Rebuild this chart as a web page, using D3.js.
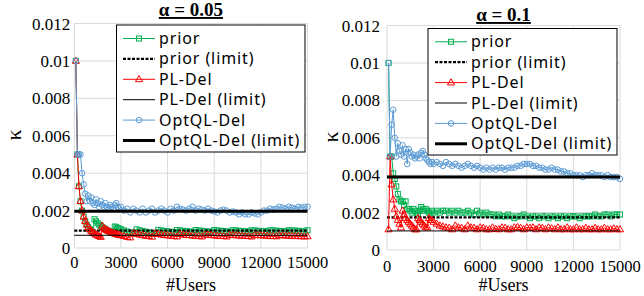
<!DOCTYPE html>
<html>
<head>
<meta charset="utf-8">
<script src="https://cdn.jsdelivr.net/npm/d3@7"></script>
<style>
body{margin:0;background:#fff}
svg{display:block}
</style>
</head>
<body>
<svg width="644" height="296"></svg>
<script>
//#Users at which kappa was recorded (shared by all series)
var users = [100,200,300,400,500,600,700,800,900,1000,1100,1200,1300,1400,1500,1600,1700,1800,1900,2000,
  2100,2200,2300,2400,2500,2600,2700,2800,2900,3000,
  3200,3400,3600,3800,4000,4200,4400,4600,4800,5000,5200,5400,5600,5800,6000,6200,6400,6600,6800,7000,
  7200,7400,7600,7800,8000,8200,8400,8600,8800,9000,9200,9400,9600,9800,10000,10200,10400,10600,10800,11000,
  11200,11400,11600,11800,12000,12200,12400,12600,12800,13000,13200,13400,13600,13800,14000,14200,14400,14600,14800,15000];

//alpha = 0.05
var prior05 = [0.01,0.005,0.0033,0.0025,0.002,0.00167,0.00143,0.00125,0.00111,0.001,0.00091,0.00083,0.00154,0.00143,0.00133,0.00125,0.00118,0.00111,0.00105,0.001,
  0.00095,0.00091,0.00087,0.00083,0.0008,0.00115,0.00111,0.00107,0.00103,0.001,
  0.00094,0.00088,0.00083,0.00079,0.001,0.00095,0.00091,0.00087,0.00083,0.0008,0.00077,0.00097,0.00094,0.00091,0.00089,0.00087,0.00085,0.00096,0.00094,0.00092,
  0.0009,0.00088,0.00086,0.00096,0.00094,0.00092,0.0009,0.00088,0.00087,0.00096,0.00094,0.00092,0.00091,0.00089,0.00087,0.00095,0.00094,0.00092,0.00091,0.00089,
  0.00088,0.00095,0.00094,0.00092,0.00091,0.0009,0.00088,0.00095,0.00094,0.00093,0.00091,0.0009,0.00089,0.00095,0.00094,0.00093,0.00092,0.0009,0.00089,0.00095];
var pl05 = [0.01,0.005,0.0033,0.0025,0.002,0.00167,0.00143,0.00125,0.00111,0.001,0.00091,0.00083,0.00077,0.00071,0.00067,0.00063,0.00059,0.00118,0.00105,0.001,
  0.00095,0.00091,0.00087,0.00083,0.0008,0.00077,0.00074,0.00071,0.00069,0.00067,
  0.00063,0.00059,0.00056,0.00079,0.00075,0.00071,0.00068,0.00065,0.00063,0.0006,0.00077,0.00074,0.00071,0.00069,0.00067,0.00065,0.00063,0.00061,0.00074,0.00071,
  0.00069,0.00068,0.00066,0.00064,0.00063,0.00061,0.00071,0.0007,0.00068,0.00067,0.00065,0.00064,0.00063,0.00061,0.0007,0.00069,0.00067,0.00066,0.00065,0.00064,
  0.00063,0.00061,0.00069,0.00068,0.00067,0.00066,0.00065,0.00063,0.00063,0.00062,0.00068,0.00067,0.00066,0.00065,0.00064,0.00063,0.00063,0.00062,0.00061,0.00062];
var opt05 = [0.01,0.005,0.005,0.005,0.004,0.0034,0.0029,0.0025,0.0028,0.0025,0.0027,0.0024,0.0023,0.0026,0.0024,0.0022,0.0025,0.0023,0.0022,0.0024,
  0.0022,0.0021,0.0023,0.0022,0.0021,0.0023,0.0024,0.0022,0.0021,0.0022,
  0.002,0.0021,0.0019,0.0021,0.002,0.0019,0.0021,0.0019,0.002,0.0021,0.0019,0.002,0.0021,0.002,0.0019,0.0021,0.002,0.0022,0.0021,0.00205,
  0.002,0.0021,0.0022,0.002,0.0021,0.00205,0.002,0.0021,0.002,0.00195,0.0019,0.002,0.00205,0.002,0.0019,0.00195,0.0019,0.0018,0.0019,0.0018,
  0.0018,0.0019,0.00185,0.0018,0.0019,0.002,0.002,0.0021,0.00205,0.0021,0.0022,0.00215,0.0021,0.0022,0.00215,0.0021,0.0022,0.00215,0.0022,0.0022];
var limits05 = [0.00093,0.00068,0.00196]; //prior, PL-Del, OptQL-Del

//alpha = 0.1
var prior10 = [0.01,0.005,0.005,0.0041,0.0038,0.0034,0.003,0.0027,0.0026,0.0026,0.0024,0.0026,0.0022,0.0022,0.0021,0.002,0.0022,0.0021,0.002,0.0019,
  0.0021,0.0023,0.0022,0.0021,0.0022,0.0021,0.002,0.0019,0.0021,0.002,
  0.0021,0.002,0.0021,0.0021,0.002,0.0021,0.002,0.0021,0.002,0.002,0.0021,0.002,0.0019,0.0021,0.002,0.0019,0.002,0.0019,0.0019,0.0018,
  0.0019,0.0018,0.0018,0.0019,0.0018,0.0017,0.0018,0.0018,0.0019,0.0018,0.0017,0.0018,0.0018,0.0017,0.0018,0.0018,0.0017,0.0018,0.0018,0.0017,
  0.0018,0.0018,0.0017,0.0018,0.0018,0.0018,0.0017,0.0018,0.0018,0.0018,0.0018,0.0019,0.0018,0.0018,0.0019,0.0019,0.0018,0.0019,0.0019,0.0019];
var pl10 = [0.0011,0.005,0.0035,0.0027,0.0022,0.0018,0.0016,0.0014,0.0012,0.0021,0.0019,0.0017,0.0016,0.0015,0.0014,0.0013,0.0012,0.0011,0.0011,0.0017,
  0.0016,0.0015,0.0014,0.0013,0.0012,0.0012,0.0017,0.0016,0.0016,0.0015,
  0.0014,0.0013,0.00125,0.0012,0.00118,0.0011,0.0013,0.0012,0.00118,0.0011,0.0013,0.0012,0.00118,0.0011,0.0012,0.00118,0.0011,0.0011,0.0012,0.00112,
  0.0011,0.0012,0.00118,0.0011,0.0011,0.0012,0.00122,0.00118,0.0011,0.0012,0.00118,0.0012,0.0011,0.0012,0.00118,0.0011,0.0012,0.00115,0.0011,0.0012,
  0.0011,0.0011,0.0012,0.0011,0.0011,0.0012,0.0011,0.0011,0.00118,0.0011,0.0011,0.00118,0.0011,0.0011,0.00118,0.0011,0.0011,0.00115,0.0011,0.0011];
var opt10 = [0.01,0.005,0.0067,0.0075,0.006,0.005,0.0057,0.0053,0.0051,0.0056,0.005,0.0054,0.0046,0.0054,0.0052,0.005,0.0051,0.0049,0.005,0.0051,
  0.0049,0.0052,0.0053,0.0051,0.0049,0.0048,0.0047,0.0046,0.0047,0.0046,
  0.0047,0.0046,0.0045,0.0047,0.0046,0.0045,0.0046,0.0045,0.0044,0.0045,0.0046,0.0045,0.0044,0.0045,0.0044,0.0043,0.0044,0.0043,0.0044,0.0043,
  0.0044,0.0044,0.0043,0.0044,0.0044,0.0044,0.0045,0.0045,0.0046,0.0046,0.0046,0.0045,0.0045,0.0044,0.0044,0.0043,0.0043,0.0044,0.0043,0.0043,
  0.0042,0.0042,0.0041,0.0041,0.004,0.004,0.004,0.0039,0.004,0.004,0.0041,0.004,0.004,0.004,0.0039,0.004,0.0039,0.0039,0.0039,0.0038];
var limits10 = [0.00174,0.00102,0.0039];

var xTicks = [0,3000,6000,9000,12000,15000];
var yTicks = [0,0.002,0.004,0.006,0.008,0.01,0.012];
var legendNames = ["prior","prior (limit)","PL-Del","PL-Del (limit)","OptQL-Del","OptQL-Del (limit)"];

var green = "#00b050", red = "#ff0000", blue = "#5b9bd5";

var panels = [
  {title:"α = 0.05", prior:prior05, pl:pl05, opt:opt05, limits:limits05,
   left:74.3, right:307.5, top:23.5, bottom:248, titleY:16, tickY:268, usersY:291, kx:13, ky:135, ygap:4,
   legend:{x:116.5, y:25, w:188.5, h:127, lineX:123, lineW:32, textX:159, row0:38.5}},
  {title:"α = 0.1", prior:prior10, pl:pl10, opt:opt10, limits:limits10,
   left:387, right:620, top:25.6, bottom:250, titleY:21, tickY:272, usersY:291, kx:330, ky:137, ygap:7,
   legend:{x:428, y:28.5, w:189, h:126.5, lineX:435, lineW:32, textX:471, row0:41.8}}
];

var svg = d3.select("svg");
var fmt = d3.format("");

var drawMarker = function(g, type, cx, cy, color)
{
  if(type == "square")
  {
    g.append("rect").attr("x", cx-2.5).attr("y", cy-2.5).attr("width",5).attr("height",5)
      .attr("fill","none").attr("stroke",color).attr("stroke-width",1);
  }
  else if(type == "triangle")
  {
    g.append("path").attr("d", d3.symbol(d3.symbolTriangle, 22)()).attr("transform","translate("+cx+","+(cy+0.3)+")")
      .attr("fill","none").attr("stroke",color).attr("stroke-width",1);
  }
  else
  {
    g.append("circle").attr("cx",cx).attr("cy",cy).attr("r",2.8)
      .attr("fill","none").attr("stroke",color).attr("stroke-width",1);
  }
}

panels.forEach(function(p)
{
  var x = d3.scaleLinear().domain([0,15000]).range([p.left,p.right]);
  var y = d3.scaleLinear().domain([0,0.012]).range([p.bottom,p.top]);
  var g = svg.append("g");

  //grid
  g.selectAll("line.hgrid").data(yTicks).enter().append("line")
    .attr("x1",p.left).attr("x2",p.right).attr("y1",function(d){return y(d)}).attr("y2",function(d){return y(d)})
    .attr("stroke","#d9d9d9").attr("stroke-width",1);
  g.selectAll("line.vgrid").data(xTicks).enter().append("line")
    .attr("y1",p.top).attr("y2",p.bottom).attr("x1",function(d){return x(d)}).attr("x2",function(d){return x(d)})
    .attr("stroke","#d9d9d9").attr("stroke-width",1);

  //tick labels
  g.selectAll("text.ytick").data(yTicks).enter().append("text")
    .attr("x",p.left-p.ygap).attr("y",function(d){return y(d)+6})
    .attr("text-anchor","end").attr("font-family","Liberation Serif").attr("font-size",17)
    .text(function(d){return fmt(d)});
  g.selectAll("text.xtick").data(xTicks).enter().append("text")
    .attr("x",function(d){return x(d)}).attr("y",p.tickY)
    .attr("text-anchor","middle").attr("font-family","Liberation Serif").attr("font-size",16.5)
    .text(function(d){return d});

  //axis titles
  g.append("text").attr("x",(p.left+p.right)/2).attr("y",p.usersY).attr("text-anchor","middle")
    .attr("font-family","Liberation Serif").attr("font-size",18).text("#Users");
  g.append("text").attr("transform","translate("+p.kx+","+p.ky+") rotate(-90)").attr("text-anchor","middle")
    .attr("dy","0.35em").attr("font-family","Liberation Serif").attr("font-size",22).text("κ");
  g.append("text").attr("x",(p.left+p.right)/2).attr("y",p.titleY).attr("text-anchor","middle")
    .attr("font-family","Liberation Serif").attr("font-weight","bold").attr("font-size",19)
    .style("text-decoration","underline").text(p.title);

  var line = d3.line().x(function(d){return x(d[0])}).y(function(d){return y(d[1])});
  var series = [
    {vals:p.prior, color:green, marker:"square"},
    {limit:p.limits[0], dash:"3,1.5", width:2.2},
    {vals:p.pl, color:red, marker:"triangle"},
    {limit:p.limits[1], width:1},
    {vals:p.opt, color:blue, marker:"circle"},
    {limit:p.limits[2], width:3}
  ];

  series.forEach(function(s)
  {
    if(s.vals)
    {
      var pts = users.map(function(u,i){return [u, s.vals[i]]});
      g.append("path").datum(pts).attr("d",line).attr("fill","none")
        .attr("stroke",s.color).attr("stroke-width",1);
      var mg = g.append("g");
      pts.forEach(function(d){ drawMarker(mg, s.marker, x(d[0]), y(d[1]), s.color) });
    }
    else
    {
      g.append("line").attr("x1",x(0)).attr("x2",x(15000)).attr("y1",y(s.limit)).attr("y2",y(s.limit))
        .attr("stroke","#000").attr("stroke-width",s.width).attr("stroke-dasharray",s.dash || null);
    }
  })

  //legend
  var L = p.legend;
  var lg = g.append("g");
  lg.append("rect").attr("x",L.x).attr("y",L.y).attr("width",L.w).attr("height",L.h)
    .attr("fill","#fff").attr("stroke","#000").attr("stroke-width",1);
  series.forEach(function(s,i)
  {
    var ry = L.row0 + i*20.4;
    if(s.vals)
    {
      lg.append("line").attr("x1",L.lineX).attr("x2",L.lineX+L.lineW).attr("y1",ry).attr("y2",ry)
        .attr("stroke",s.color).attr("stroke-width",1);
      drawMarker(lg, s.marker, L.lineX+L.lineW/2, ry, s.color);
    }
    else
    {
      lg.append("line").attr("x1",L.lineX).attr("x2",L.lineX+L.lineW).attr("y1",ry).attr("y2",ry)
        .attr("stroke","#000").attr("stroke-width",s.width).attr("stroke-dasharray",s.dash || null);
    }
    lg.append("text").attr("x",L.textX).attr("y",ry+5.5).attr("font-family","Noto Sans").attr("font-size",16)
      .attr("letter-spacing","0.9px").text(legendNames[i]);
  })
})
</script>
</body>
</html>
